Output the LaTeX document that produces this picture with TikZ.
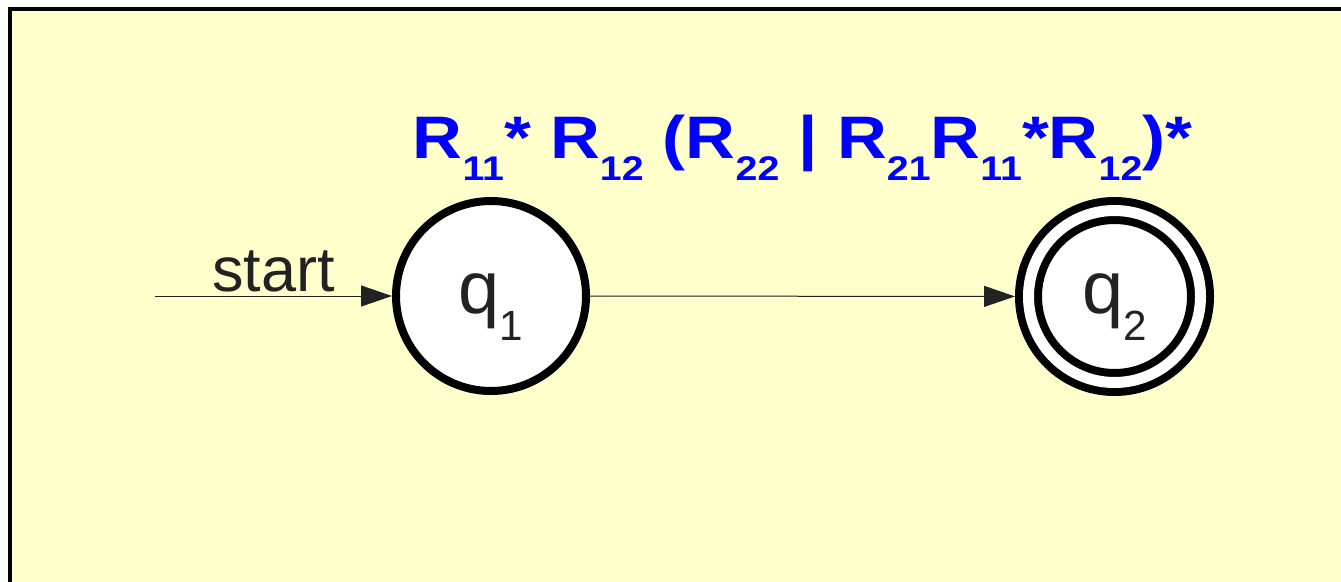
\documentclass[tikz,border=0pt]{standalone}
\usepackage{fontspec}
\setmainfont{Liberation Sans}
\usepackage{xcolor}
\usetikzlibrary{arrows.meta, positioning}

\definecolor{paper}{HTML}{FFFFCC}
\definecolor{ink}{HTML}{222222}
\definecolor{reblue}{HTML}{0000FF}

% lowered subscript, relative to the current font
\newcommand{\sbs}[1]{\raisebox{-0.37em}{\scalebox{0.57}{#1}}}

\begin{document}
\begin{tikzpicture}[x=1pt, y=-1pt,
    state/.style={circle, draw=black, line width=8pt, fill=white, inner sep=0pt,
        minimum size=190pt, text height=42pt, text depth=8pt, text=ink,
        font=\fontsize{74}{74}\selectfont},
    accept/.style={double=white, double distance=11pt, minimum size=172pt, outer sep=13.5pt},
    arr/.style={-{Triangle[length=31pt, width=21pt]}, line width=1pt, draw=ink},
    regex/.style={text=reblue, font=\fontsize{60}{60}\selectfont\bfseries, inner sep=0pt}
]
\useasboundingbox (0,0) rectangle (1341,581);
\clip (0,0) rectangle (1341,581);
\draw[line width=4pt, fill=paper] (10,9) rectangle (1400,700);

\node[state] (q1) at (491,296) {q\sbs{1}};
\node[state, accept] (q2) at (1114.5,296.5) {q\sbs{2}};
\coordinate[left=237pt of q1] (s);

\draw[arr] (s) -- node[above, inner sep=3pt, text=ink, font=\fontsize{63}{63}\selectfont] (lbl) {start} (q1);
\draw[arr] (q1) -- node[regex, anchor=base, yshift=138pt] (re)
    {\scalebox{1.15}[1]{R\sbs{11}* R\sbs{12} (R\sbs{22} | R\sbs{21}R\sbs{11}*R\sbs{12})*}} (q2);
\end{tikzpicture}
\end{document}
